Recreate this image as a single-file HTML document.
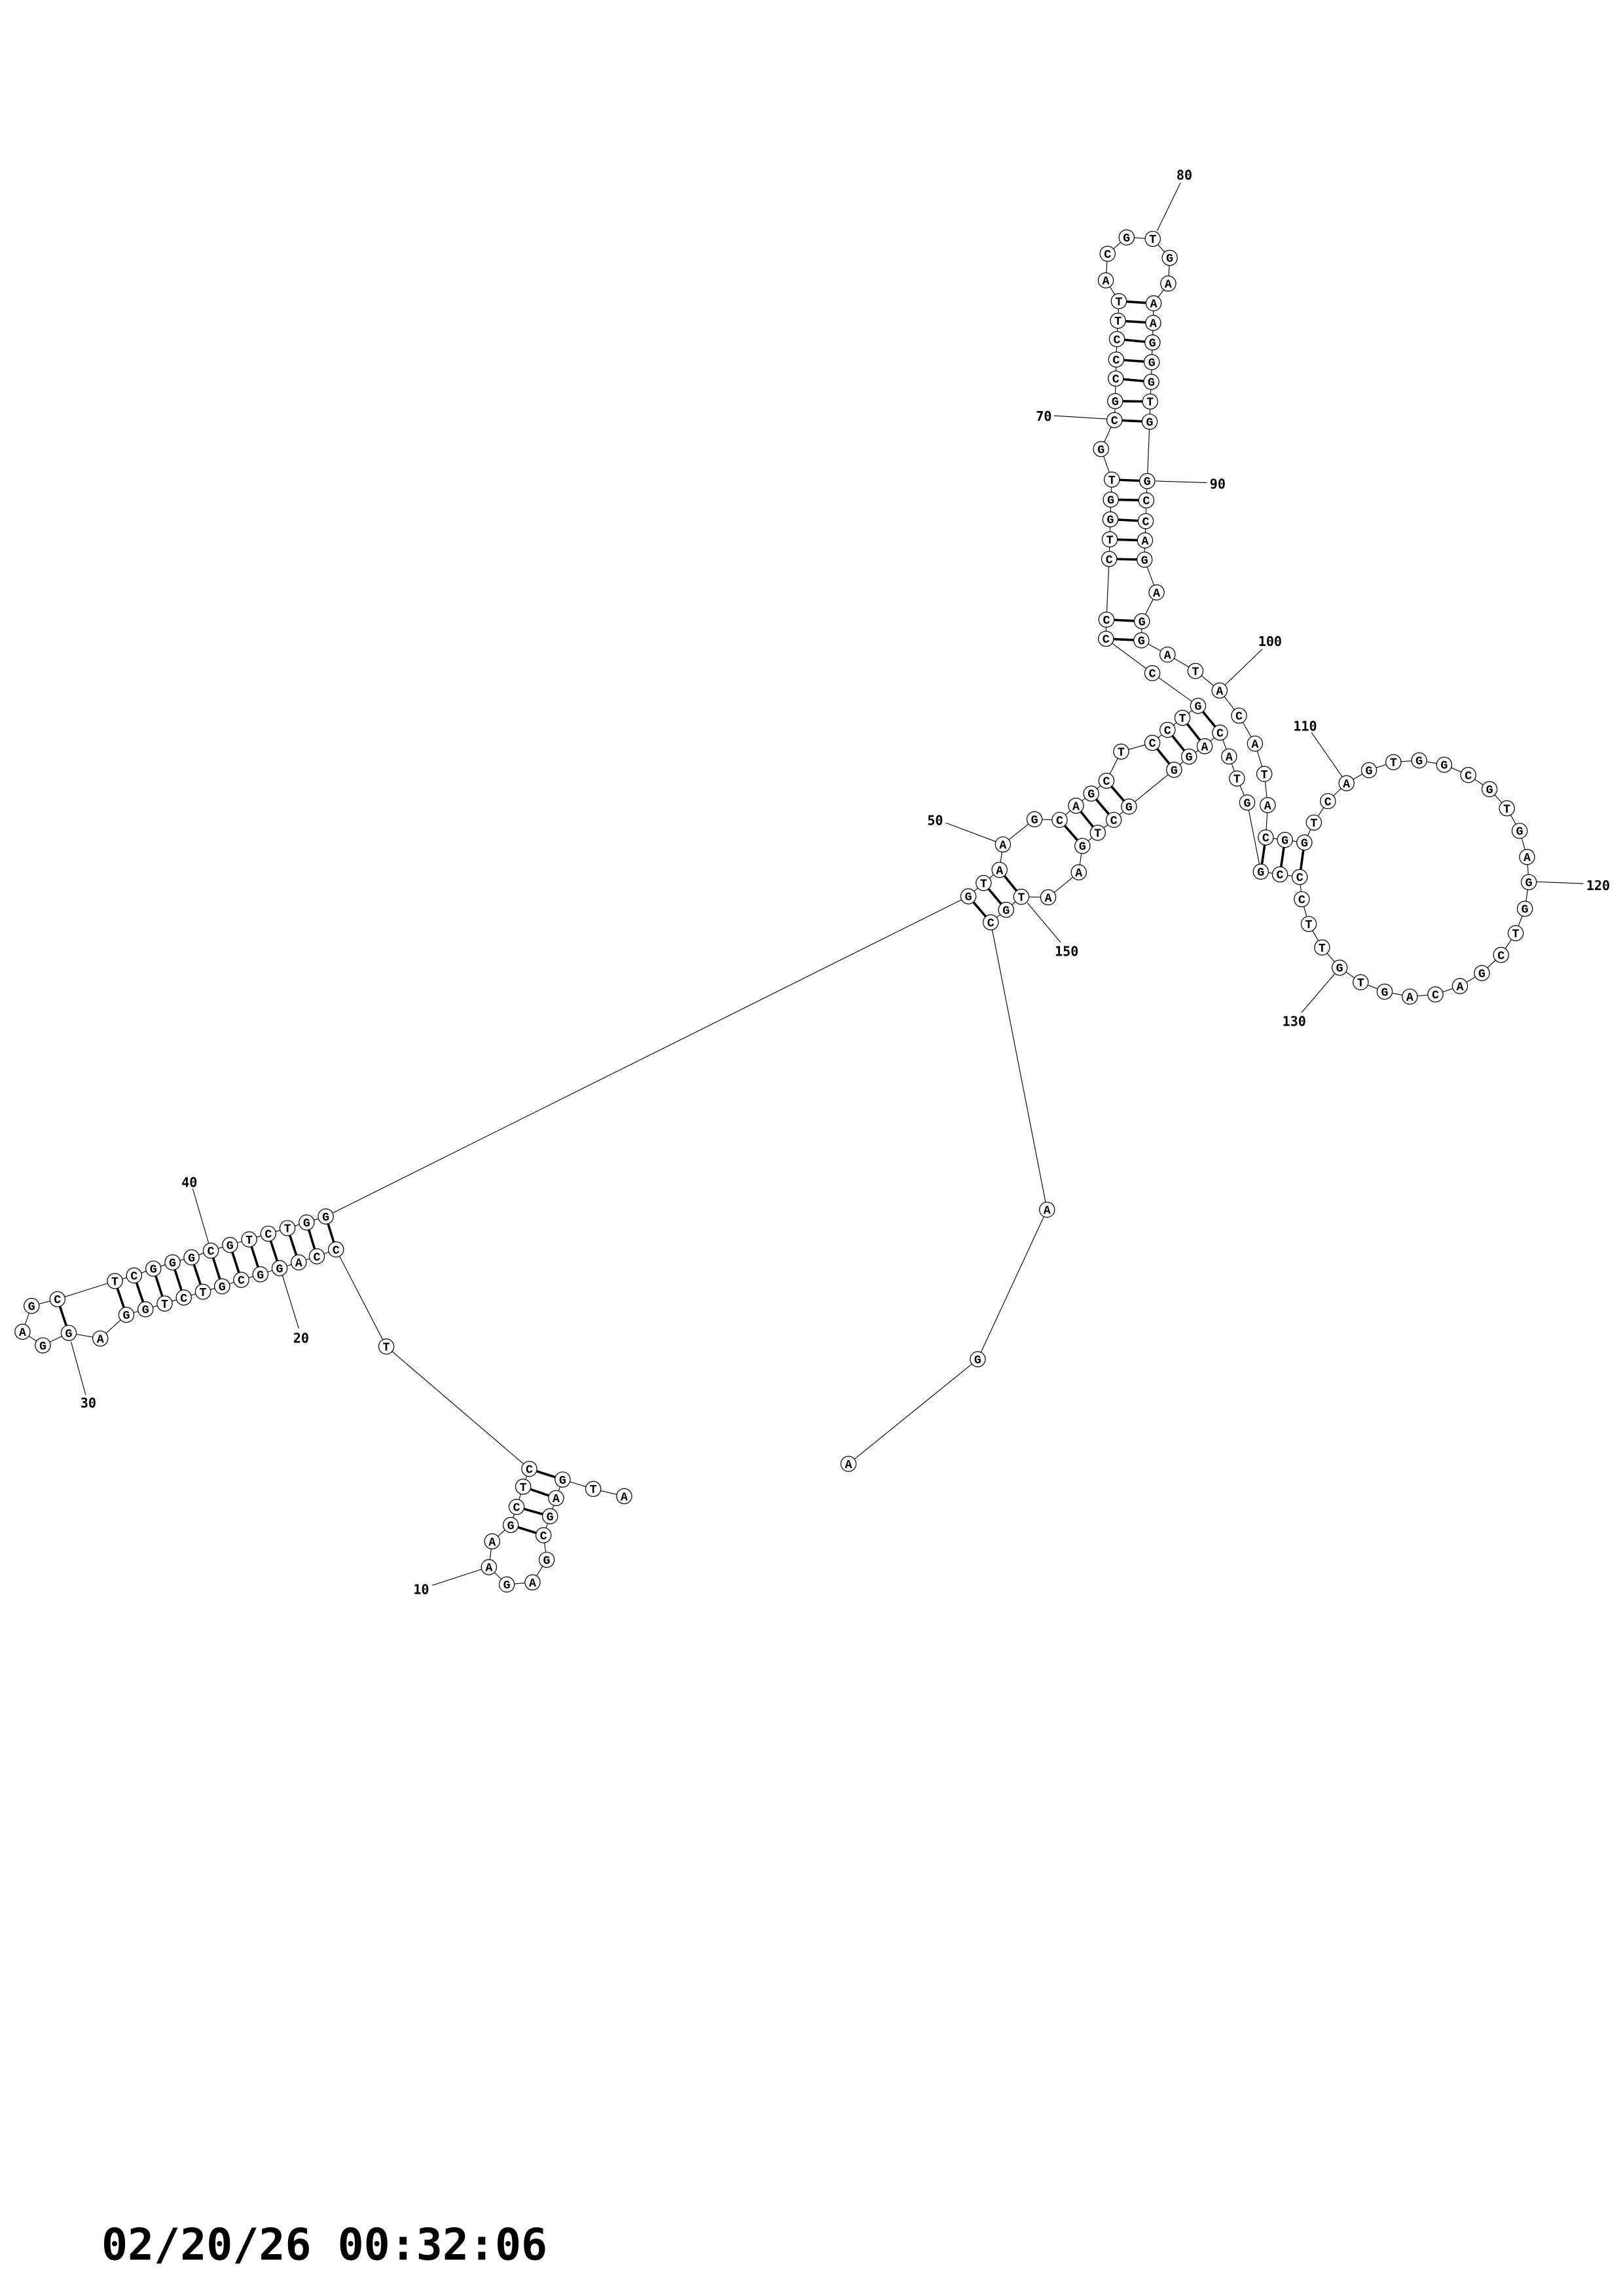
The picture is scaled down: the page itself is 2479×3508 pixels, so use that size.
<!DOCTYPE html>
<html><head><meta charset="utf-8"><style>
html,body{margin:0;padding:0;background:#fff;}
svg{display:block;}
.n circle{fill:#fff;stroke:#000;stroke-width:0.55;}
.n text{font-family:"Courier New","Liberation Mono","DejaVu Sans Mono",monospace;font-weight:bold;font-size:8.2px;text-anchor:middle;fill:#000;}
.lb{font-family:"DejaVu Sans Mono","Liberation Mono",monospace;font-weight:bold;font-size:9px;text-anchor:middle;fill:#000;}
</style></head><body>
<svg xmlns="http://www.w3.org/2000/svg" width="2479" height="3508" viewBox="0 0 1110 1570.76">
<rect width="1110" height="1570.76" fill="#fff"/>
<g fill="none" stroke="#000" stroke-width="0.5">
<polyline points="426.9,1023.6 405.7,1018.6 384.8,1012.2 380.3,1024.9 376.2,1037.3 371.7,1050.3 373.9,1067.1 364.2,1082.5 346.6,1084 334.4,1072.1 336.6,1054.5 349.3,1043.3 353.3,1030.9 357.8,1017.1 362,1004.9 264.2,921.2 229.8,854.8 216.7,859.5 204.3,863.6 191.2,867.6 178.1,871.8 165,875.6 151.9,880 138.8,883.7 125.7,887.7 112.6,891.8 99.5,895.7 86.4,899.5 68.6,915.7 47,911.9 29.3,920.4 15.4,911.1 21.6,893.4 39.3,888.8 78.6,876.4 91.7,872.6 104.9,867.9 118,863.6 131,860.2 144.2,855.6 157.3,851.7 170.4,847.9 183.5,844 196.6,840.2 209.7,836.3 222.8,832.2 662.3,613.2 672.7,604.1 683.6,595.1 685.9,577.7 707.5,560.5 724.7,560.9 735.9,551.2 746.3,542.9 756.7,534.1 766.8,514.2 788.1,508.2 798.5,499.3 808.7,491.1 819.4,482.9 788.1,460.5 756.4,437 756.7,423.9 758.6,382.4 759,369 759.4,355.3 759.7,341.8 760.4,328.1 753,307.2 762.2,287.4 762.7,274.4 763.1,259 763.4,246 763.9,232 764.6,219.4 765.2,206 756.3,191.8 757.5,173.6 770.5,162.4 788.4,163.4 800,176.4 799,194 789,207.5 788.7,220.9 788.2,234.3 787.7,247.7 787.4,261.2 786.6,274.7 786.3,288.5 784.6,329.1 784,342.3 783.6,356.5 783.1,369.7 782.8,382.9 791,405.3 781,425 780.6,438.1 798.5,447.8 817.6,459 834.1,472.4 847.4,489.6 858.3,508.7 864.7,529.5 867,550.8 865.7,572.9 878.8,574.6 892.1,576.4 898.6,562.7 908.2,548.1 920.9,535.8 936.3,526.9 953,521.4 970.6,520.2 987.7,523.2 1004.2,530.2 1018.7,539.9 1030.6,553 1039.3,568.4 1044.4,586.3 1045.6,603.5 1042.9,621.7 1036.6,638.4 1026.6,653.3 1013.5,665.7 998.5,674.6 981.7,680.3 964.2,681.8 947,678.4 930.6,672 916.2,662 904.2,648.2 895.1,632.1 890.3,615.2 888.9,600 875.4,598.2 862.3,596.3 853,549 846,532.6 840.6,517.5 834.4,501.2 823.9,510.5 813.2,517.6 803,526.6 772.1,551.8 761.7,560.9 750.8,569.7 740.3,578.7 737.8,596.8 716.9,613.9 698.5,613.5 688.1,622.4 677.6,631 716.1,827.6 668.7,929.9 580.3,1001.5"/>
<line x1="807.4" y1="125" x2="791.4" y2="157.9"/>
<line x1="720.9" y1="284.4" x2="756.7" y2="286.6"/>
<line x1="790.3" y1="329.1" x2="825.4" y2="330.2"/>
<line x1="863.4" y1="444" x2="838" y2="468.5"/>
<line x1="897" y1="501.2" x2="918" y2="531.4"/>
<line x1="1051" y1="603.3" x2="1082.9" y2="604.5"/>
<line x1="890.3" y1="692.6" x2="912.7" y2="666.4"/>
<line x1="702.7" y1="617.7" x2="725.4" y2="644.8"/>
<line x1="647" y1="563" x2="681.4" y2="575.9"/>
<line x1="131.8" y1="813.2" x2="142.6" y2="850.2"/>
<line x1="192.7" y1="871" x2="204.3" y2="908.8"/>
<line x1="48.6" y1="918" x2="58.6" y2="954.3"/>
<line x1="295.6" y1="1084.6" x2="329.9" y2="1073.4"/>
</g>
<g stroke="#000" stroke-width="1.6">
<line x1="384.8" y1="1012.2" x2="362" y2="1004.9"/>
<line x1="380.3" y1="1024.9" x2="357.8" y2="1017.1"/>
<line x1="376.2" y1="1037.3" x2="353.3" y2="1030.9"/>
<line x1="371.7" y1="1050.3" x2="349.3" y2="1043.3"/>
<line x1="229.8" y1="854.8" x2="222.8" y2="832.2"/>
<line x1="216.7" y1="859.5" x2="209.7" y2="836.3"/>
<line x1="204.3" y1="863.6" x2="196.6" y2="840.2"/>
<line x1="191.2" y1="867.6" x2="183.5" y2="844"/>
<line x1="178.1" y1="871.8" x2="170.4" y2="847.9"/>
<line x1="165" y1="875.6" x2="157.3" y2="851.7"/>
<line x1="151.9" y1="880" x2="144.2" y2="855.6"/>
<line x1="138.8" y1="883.7" x2="131" y2="860.2"/>
<line x1="125.7" y1="887.7" x2="118" y2="863.6"/>
<line x1="112.6" y1="891.8" x2="104.9" y2="867.9"/>
<line x1="99.5" y1="895.7" x2="91.7" y2="872.6"/>
<line x1="86.4" y1="899.5" x2="78.6" y2="876.4"/>
<line x1="47" y1="911.9" x2="39.3" y2="888.8"/>
<line x1="662.3" y1="613.2" x2="677.6" y2="631"/>
<line x1="672.7" y1="604.1" x2="688.1" y2="622.4"/>
<line x1="683.6" y1="595.1" x2="698.5" y2="613.5"/>
<line x1="724.7" y1="560.9" x2="740.3" y2="578.7"/>
<line x1="735.9" y1="551.2" x2="750.8" y2="569.7"/>
<line x1="746.3" y1="542.9" x2="761.7" y2="560.9"/>
<line x1="756.7" y1="534.1" x2="772.1" y2="551.8"/>
<line x1="788.1" y1="508.2" x2="803" y2="526.6"/>
<line x1="798.5" y1="499.3" x2="813.2" y2="517.6"/>
<line x1="808.7" y1="491.1" x2="823.9" y2="510.5"/>
<line x1="819.4" y1="482.9" x2="834.4" y2="501.2"/>
<line x1="756.4" y1="437" x2="780.6" y2="438.1"/>
<line x1="756.7" y1="423.9" x2="781" y2="425"/>
<line x1="758.6" y1="382.4" x2="782.8" y2="382.9"/>
<line x1="759" y1="369" x2="783.1" y2="369.7"/>
<line x1="759.4" y1="355.3" x2="783.6" y2="356.5"/>
<line x1="759.7" y1="341.8" x2="784" y2="342.3"/>
<line x1="760.4" y1="328.1" x2="784.6" y2="329.1"/>
<line x1="762.2" y1="287.4" x2="786.3" y2="288.5"/>
<line x1="762.7" y1="274.4" x2="786.6" y2="274.7"/>
<line x1="763.1" y1="259" x2="787.4" y2="261.2"/>
<line x1="763.4" y1="246" x2="787.7" y2="247.7"/>
<line x1="763.9" y1="232" x2="788.2" y2="234.3"/>
<line x1="764.6" y1="219.4" x2="788.7" y2="220.9"/>
<line x1="765.2" y1="206" x2="789" y2="207.5"/>
<line x1="865.7" y1="572.9" x2="862.3" y2="596.3"/>
<line x1="878.8" y1="574.6" x2="875.4" y2="598.2"/>
<line x1="892.1" y1="576.4" x2="888.9" y2="600"/>
</g>
<g class="n">
<circle cx="426.9" cy="1023.6" r="5.2"/><text x="426.9" y="1026.4">A</text>
<circle cx="405.7" cy="1018.6" r="5.2"/><text x="405.7" y="1021.4">T</text>
<circle cx="384.8" cy="1012.2" r="5.2"/><text x="384.8" y="1015">G</text>
<circle cx="380.3" cy="1024.9" r="5.2"/><text x="380.3" y="1027.7">A</text>
<circle cx="376.2" cy="1037.3" r="5.2"/><text x="376.2" y="1040.1">G</text>
<circle cx="371.7" cy="1050.3" r="5.2"/><text x="371.7" y="1053.1">C</text>
<circle cx="373.9" cy="1067.1" r="5.2"/><text x="373.9" y="1069.9">G</text>
<circle cx="364.2" cy="1082.5" r="5.2"/><text x="364.2" y="1085.3">A</text>
<circle cx="346.6" cy="1084" r="5.2"/><text x="346.6" y="1086.8">G</text>
<circle cx="334.4" cy="1072.1" r="5.2"/><text x="334.4" y="1074.9">A</text>
<circle cx="336.6" cy="1054.5" r="5.2"/><text x="336.6" y="1057.3">A</text>
<circle cx="349.3" cy="1043.3" r="5.2"/><text x="349.3" y="1046.1">G</text>
<circle cx="353.3" cy="1030.9" r="5.2"/><text x="353.3" y="1033.7">C</text>
<circle cx="357.8" cy="1017.1" r="5.2"/><text x="357.8" y="1019.9">T</text>
<circle cx="362" cy="1004.9" r="5.2"/><text x="362" y="1007.7">C</text>
<circle cx="264.2" cy="921.2" r="5.2"/><text x="264.2" y="924">T</text>
<circle cx="229.8" cy="854.8" r="5.2"/><text x="229.8" y="857.6">C</text>
<circle cx="216.7" cy="859.5" r="5.2"/><text x="216.7" y="862.3">C</text>
<circle cx="204.3" cy="863.6" r="5.2"/><text x="204.3" y="866.4">A</text>
<circle cx="191.2" cy="867.6" r="5.2"/><text x="191.2" y="870.4">G</text>
<circle cx="178.1" cy="871.8" r="5.2"/><text x="178.1" y="874.6">G</text>
<circle cx="165" cy="875.6" r="5.2"/><text x="165" y="878.4">C</text>
<circle cx="151.9" cy="880" r="5.2"/><text x="151.9" y="882.8">G</text>
<circle cx="138.8" cy="883.7" r="5.2"/><text x="138.8" y="886.5">T</text>
<circle cx="125.7" cy="887.7" r="5.2"/><text x="125.7" y="890.5">C</text>
<circle cx="112.6" cy="891.8" r="5.2"/><text x="112.6" y="894.6">T</text>
<circle cx="99.5" cy="895.7" r="5.2"/><text x="99.5" y="898.5">G</text>
<circle cx="86.4" cy="899.5" r="5.2"/><text x="86.4" y="902.3">G</text>
<circle cx="68.6" cy="915.7" r="5.2"/><text x="68.6" y="918.5">A</text>
<circle cx="47" cy="911.9" r="5.2"/><text x="47" y="914.7">G</text>
<circle cx="29.3" cy="920.4" r="5.2"/><text x="29.3" y="923.2">G</text>
<circle cx="15.4" cy="911.1" r="5.2"/><text x="15.4" y="913.9">A</text>
<circle cx="21.6" cy="893.4" r="5.2"/><text x="21.6" y="896.2">G</text>
<circle cx="39.3" cy="888.8" r="5.2"/><text x="39.3" y="891.6">C</text>
<circle cx="78.6" cy="876.4" r="5.2"/><text x="78.6" y="879.2">T</text>
<circle cx="91.7" cy="872.6" r="5.2"/><text x="91.7" y="875.4">C</text>
<circle cx="104.9" cy="867.9" r="5.2"/><text x="104.9" y="870.7">G</text>
<circle cx="118" cy="863.6" r="5.2"/><text x="118" y="866.4">G</text>
<circle cx="131" cy="860.2" r="5.2"/><text x="131" y="863">G</text>
<circle cx="144.2" cy="855.6" r="5.2"/><text x="144.2" y="858.4">C</text>
<circle cx="157.3" cy="851.7" r="5.2"/><text x="157.3" y="854.5">G</text>
<circle cx="170.4" cy="847.9" r="5.2"/><text x="170.4" y="850.7">T</text>
<circle cx="183.5" cy="844" r="5.2"/><text x="183.5" y="846.8">C</text>
<circle cx="196.6" cy="840.2" r="5.2"/><text x="196.6" y="843">T</text>
<circle cx="209.7" cy="836.3" r="5.2"/><text x="209.7" y="839.1">G</text>
<circle cx="222.8" cy="832.2" r="5.2"/><text x="222.8" y="835">G</text>
<circle cx="662.3" cy="613.2" r="5.2"/><text x="662.3" y="616">G</text>
<circle cx="672.7" cy="604.1" r="5.2"/><text x="672.7" y="606.9">T</text>
<circle cx="683.6" cy="595.1" r="5.2"/><text x="683.6" y="597.9">A</text>
<circle cx="685.9" cy="577.7" r="5.2"/><text x="685.9" y="580.5">A</text>
<circle cx="707.5" cy="560.5" r="5.2"/><text x="707.5" y="563.3">G</text>
<circle cx="724.7" cy="560.9" r="5.2"/><text x="724.7" y="563.7">C</text>
<circle cx="735.9" cy="551.2" r="5.2"/><text x="735.9" y="554">A</text>
<circle cx="746.3" cy="542.9" r="5.2"/><text x="746.3" y="545.7">G</text>
<circle cx="756.7" cy="534.1" r="5.2"/><text x="756.7" y="536.9">C</text>
<circle cx="766.8" cy="514.2" r="5.2"/><text x="766.8" y="517">T</text>
<circle cx="788.1" cy="508.2" r="5.2"/><text x="788.1" y="511">C</text>
<circle cx="798.5" cy="499.3" r="5.2"/><text x="798.5" y="502.1">C</text>
<circle cx="808.7" cy="491.1" r="5.2"/><text x="808.7" y="493.9">T</text>
<circle cx="819.4" cy="482.9" r="5.2"/><text x="819.4" y="485.7">G</text>
<circle cx="788.1" cy="460.5" r="5.2"/><text x="788.1" y="463.3">C</text>
<circle cx="756.4" cy="437" r="5.2"/><text x="756.4" y="439.8">C</text>
<circle cx="756.7" cy="423.9" r="5.2"/><text x="756.7" y="426.7">C</text>
<circle cx="758.6" cy="382.4" r="5.2"/><text x="758.6" y="385.2">C</text>
<circle cx="759" cy="369" r="5.2"/><text x="759" y="371.8">T</text>
<circle cx="759.4" cy="355.3" r="5.2"/><text x="759.4" y="358.1">G</text>
<circle cx="759.7" cy="341.8" r="5.2"/><text x="759.7" y="344.6">G</text>
<circle cx="760.4" cy="328.1" r="5.2"/><text x="760.4" y="330.9">T</text>
<circle cx="753" cy="307.2" r="5.2"/><text x="753" y="310">G</text>
<circle cx="762.2" cy="287.4" r="5.2"/><text x="762.2" y="290.2">C</text>
<circle cx="762.7" cy="274.4" r="5.2"/><text x="762.7" y="277.2">G</text>
<circle cx="763.1" cy="259" r="5.2"/><text x="763.1" y="261.8">C</text>
<circle cx="763.4" cy="246" r="5.2"/><text x="763.4" y="248.8">C</text>
<circle cx="763.9" cy="232" r="5.2"/><text x="763.9" y="234.8">C</text>
<circle cx="764.6" cy="219.4" r="5.2"/><text x="764.6" y="222.2">T</text>
<circle cx="765.2" cy="206" r="5.2"/><text x="765.2" y="208.8">T</text>
<circle cx="756.3" cy="191.8" r="5.2"/><text x="756.3" y="194.6">A</text>
<circle cx="757.5" cy="173.6" r="5.2"/><text x="757.5" y="176.4">C</text>
<circle cx="770.5" cy="162.4" r="5.2"/><text x="770.5" y="165.2">G</text>
<circle cx="788.4" cy="163.4" r="5.2"/><text x="788.4" y="166.2">T</text>
<circle cx="800" cy="176.4" r="5.2"/><text x="800" y="179.2">G</text>
<circle cx="799" cy="194" r="5.2"/><text x="799" y="196.8">A</text>
<circle cx="789" cy="207.5" r="5.2"/><text x="789" y="210.3">A</text>
<circle cx="788.7" cy="220.9" r="5.2"/><text x="788.7" y="223.7">A</text>
<circle cx="788.2" cy="234.3" r="5.2"/><text x="788.2" y="237.1">G</text>
<circle cx="787.7" cy="247.7" r="5.2"/><text x="787.7" y="250.5">G</text>
<circle cx="787.4" cy="261.2" r="5.2"/><text x="787.4" y="264">G</text>
<circle cx="786.6" cy="274.7" r="5.2"/><text x="786.6" y="277.5">T</text>
<circle cx="786.3" cy="288.5" r="5.2"/><text x="786.3" y="291.3">G</text>
<circle cx="784.6" cy="329.1" r="5.2"/><text x="784.6" y="331.9">G</text>
<circle cx="784" cy="342.3" r="5.2"/><text x="784" y="345.1">C</text>
<circle cx="783.6" cy="356.5" r="5.2"/><text x="783.6" y="359.3">C</text>
<circle cx="783.1" cy="369.7" r="5.2"/><text x="783.1" y="372.5">A</text>
<circle cx="782.8" cy="382.9" r="5.2"/><text x="782.8" y="385.7">G</text>
<circle cx="791" cy="405.3" r="5.2"/><text x="791" y="408.1">A</text>
<circle cx="781" cy="425" r="5.2"/><text x="781" y="427.8">G</text>
<circle cx="780.6" cy="438.1" r="5.2"/><text x="780.6" y="440.9">G</text>
<circle cx="798.5" cy="447.8" r="5.2"/><text x="798.5" y="450.6">A</text>
<circle cx="817.6" cy="459" r="5.2"/><text x="817.6" y="461.8">T</text>
<circle cx="834.1" cy="472.4" r="5.2"/><text x="834.1" y="475.2">A</text>
<circle cx="847.4" cy="489.6" r="5.2"/><text x="847.4" y="492.4">C</text>
<circle cx="858.3" cy="508.7" r="5.2"/><text x="858.3" y="511.5">A</text>
<circle cx="864.7" cy="529.5" r="5.2"/><text x="864.7" y="532.3">T</text>
<circle cx="867" cy="550.8" r="5.2"/><text x="867" y="553.6">A</text>
<circle cx="865.7" cy="572.9" r="5.2"/><text x="865.7" y="575.7">C</text>
<circle cx="878.8" cy="574.6" r="5.2"/><text x="878.8" y="577.4">G</text>
<circle cx="892.1" cy="576.4" r="5.2"/><text x="892.1" y="579.2">G</text>
<circle cx="898.6" cy="562.7" r="5.2"/><text x="898.6" y="565.5">T</text>
<circle cx="908.2" cy="548.1" r="5.2"/><text x="908.2" y="550.9">C</text>
<circle cx="920.9" cy="535.8" r="5.2"/><text x="920.9" y="538.6">A</text>
<circle cx="936.3" cy="526.9" r="5.2"/><text x="936.3" y="529.7">G</text>
<circle cx="953" cy="521.4" r="5.2"/><text x="953" y="524.2">T</text>
<circle cx="970.6" cy="520.2" r="5.2"/><text x="970.6" y="523">G</text>
<circle cx="987.7" cy="523.2" r="5.2"/><text x="987.7" y="526">G</text>
<circle cx="1004.2" cy="530.2" r="5.2"/><text x="1004.2" y="533">C</text>
<circle cx="1018.7" cy="539.9" r="5.2"/><text x="1018.7" y="542.7">G</text>
<circle cx="1030.6" cy="553" r="5.2"/><text x="1030.6" y="555.8">T</text>
<circle cx="1039.3" cy="568.4" r="5.2"/><text x="1039.3" y="571.2">G</text>
<circle cx="1044.4" cy="586.3" r="5.2"/><text x="1044.4" y="589.1">A</text>
<circle cx="1045.6" cy="603.5" r="5.2"/><text x="1045.6" y="606.3">G</text>
<circle cx="1042.9" cy="621.7" r="5.2"/><text x="1042.9" y="624.5">G</text>
<circle cx="1036.6" cy="638.4" r="5.2"/><text x="1036.6" y="641.2">T</text>
<circle cx="1026.6" cy="653.3" r="5.2"/><text x="1026.6" y="656.1">C</text>
<circle cx="1013.5" cy="665.7" r="5.2"/><text x="1013.5" y="668.5">G</text>
<circle cx="998.5" cy="674.6" r="5.2"/><text x="998.5" y="677.4">A</text>
<circle cx="981.7" cy="680.3" r="5.2"/><text x="981.7" y="683.1">C</text>
<circle cx="964.2" cy="681.8" r="5.2"/><text x="964.2" y="684.6">A</text>
<circle cx="947" cy="678.4" r="5.2"/><text x="947" y="681.2">G</text>
<circle cx="930.6" cy="672" r="5.2"/><text x="930.6" y="674.8">T</text>
<circle cx="916.2" cy="662" r="5.2"/><text x="916.2" y="664.8">G</text>
<circle cx="904.2" cy="648.2" r="5.2"/><text x="904.2" y="651">T</text>
<circle cx="895.1" cy="632.1" r="5.2"/><text x="895.1" y="634.9">T</text>
<circle cx="890.3" cy="615.2" r="5.2"/><text x="890.3" y="618">C</text>
<circle cx="888.9" cy="600" r="5.2"/><text x="888.9" y="602.8">C</text>
<circle cx="875.4" cy="598.2" r="5.2"/><text x="875.4" y="601">C</text>
<circle cx="862.3" cy="596.3" r="5.2"/><text x="862.3" y="599.1">G</text>
<circle cx="853" cy="549" r="5.2"/><text x="853" y="551.8">G</text>
<circle cx="846" cy="532.6" r="5.2"/><text x="846" y="535.4">T</text>
<circle cx="840.6" cy="517.5" r="5.2"/><text x="840.6" y="520.3">A</text>
<circle cx="834.4" cy="501.2" r="5.2"/><text x="834.4" y="504">C</text>
<circle cx="823.9" cy="510.5" r="5.2"/><text x="823.9" y="513.3">A</text>
<circle cx="813.2" cy="517.6" r="5.2"/><text x="813.2" y="520.4">G</text>
<circle cx="803" cy="526.6" r="5.2"/><text x="803" y="529.4">G</text>
<circle cx="772.1" cy="551.8" r="5.2"/><text x="772.1" y="554.6">G</text>
<circle cx="761.7" cy="560.9" r="5.2"/><text x="761.7" y="563.7">C</text>
<circle cx="750.8" cy="569.7" r="5.2"/><text x="750.8" y="572.5">T</text>
<circle cx="740.3" cy="578.7" r="5.2"/><text x="740.3" y="581.5">G</text>
<circle cx="737.8" cy="596.8" r="5.2"/><text x="737.8" y="599.6">A</text>
<circle cx="716.9" cy="613.9" r="5.2"/><text x="716.9" y="616.7">A</text>
<circle cx="698.5" cy="613.5" r="5.2"/><text x="698.5" y="616.3">T</text>
<circle cx="688.1" cy="622.4" r="5.2"/><text x="688.1" y="625.2">G</text>
<circle cx="677.6" cy="631" r="5.2"/><text x="677.6" y="633.8">C</text>
<circle cx="716.1" cy="827.6" r="5.2"/><text x="716.1" y="830.4">A</text>
<circle cx="668.7" cy="929.9" r="5.2"/><text x="668.7" y="932.7">G</text>
<circle cx="580.3" cy="1001.5" r="5.2"/><text x="580.3" y="1004.3">A</text>
</g>
<g class="lb">
<text x="810" y="123">80</text>
<text x="713.9" y="288">70</text>
<text x="832.8" y="334.3">90</text>
<text x="868.6" y="442">100</text>
<text x="892.6" y="500">110</text>
<text x="1093" y="609">120</text>
<text x="885.1" y="701.8">130</text>
<text x="729.5" y="654">150</text>
<text x="639.6" y="564.5">50</text>
<text x="129.5" y="812">40</text>
<text x="205.9" y="918.7">20</text>
<text x="60.4" y="963">30</text>
<text x="288.1" y="1090.6">10</text>
</g>
<text x="69.4" y="1546" style="font-family:'DejaVu Sans Mono','Liberation Mono',monospace;font-weight:bold;font-size:29.8px;fill:#000">02/20/26 00:32:06</text>
</svg>
</body></html>
